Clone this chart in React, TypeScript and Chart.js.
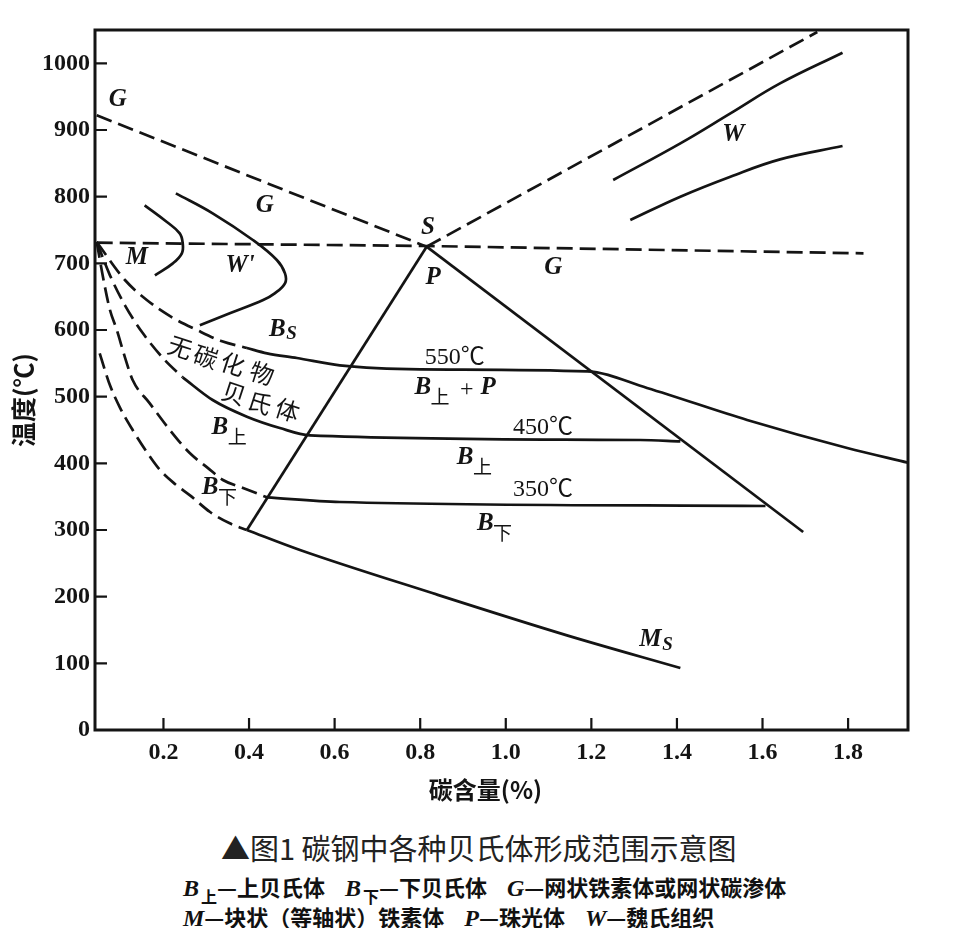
import React, { useEffect, useRef } from "react";
import { Chart, registerables } from "chart.js";

Chart.register(...registerables);

type Pt = [number, number];

// ---- axes ----
const xTickValues = [0.2, 0.4, 0.6, 0.8, 1.0, 1.2, 1.4, 1.6, 1.8];
const yTickValues = [0, 100, 200, 300, 400, 500, 600, 700, 800, 900, 1000];
const xMin = 0.04;
const xMax = 1.94;
const yMin = 0;
const yMax = 1050;

// ---- dashed lines (carbon %, temperature °C) ----
const gLeft: Pt[] = [[0.044, 922], [0.815, 725]];
const gRight: Pt[] = [[0.815, 725], [1.728, 1047]];
const a1Line: Pt[] = [[0.044, 731], [0.815, 726], [1.836, 715]];
const bsDashed: Pt[] = [[0.044, 732], [0.110, 675], [0.161, 645], [0.220, 619], [0.278, 600], [0.337, 583], [0.395, 573]];
const bUpperDashed: Pt[] = [[0.044, 732], [0.075, 682], [0.110, 637], [0.152, 595], [0.203, 555], [0.245, 529]];
const bLowerDashed: Pt[] = [[0.044, 732], [0.060, 675], [0.075, 630], [0.091, 600], [0.110, 559], [0.128, 525], [0.168, 490], [0.215, 450], [0.262, 415], [0.302, 394], [0.339, 375], [0.386, 363], [0.442, 349]];
const msDashed: Pt[] = [[0.051, 565], [0.063, 540], [0.075, 517], [0.098, 484], [0.128, 450], [0.161, 417], [0.192, 390], [0.227, 369], [0.262, 352], [0.309, 327], [0.355, 310], [0.395, 300]];

// ---- solid lines ----
const bsSolid: Pt[] = [[0.395, 573], [0.442, 565], [0.512, 558], [0.612, 547], [0.800, 541], [1.190, 538], [1.330, 513], [1.564, 465], [1.798, 423], [1.94, 401]];
const bUpperSolid: Pt[] = [[0.245, 529], [0.315, 495], [0.395, 470], [0.472, 453], [0.542, 442], [1.314, 435], [1.408, 433]];
const bLowerSolid: Pt[] = [[0.442, 349], [0.612, 342], [1.607, 336]];
const msSolid: Pt[] = [[0.395, 300], [0.519, 270], [0.830, 205], [1.143, 142], [1.408, 93]];
const pLeft: Pt[] = [[0.815, 725], [0.395, 300]];
const pRight: Pt[] = [[0.815, 725], [1.695, 297]];
const mCurve: Pt[] = [[0.156, 787], [0.208, 762], [0.238, 745], [0.245, 730], [0.243, 715], [0.222, 700], [0.180, 682]];
const wPrimeCurve: Pt[] = [[0.229, 805], [0.315, 775], [0.409, 735], [0.465, 705], [0.484, 685], [0.484, 670], [0.460, 655], [0.433, 645], [0.355, 625], [0.285, 607]];
const wUpper: Pt[] = [[1.251, 825], [1.408, 880], [1.525, 925], [1.641, 970], [1.787, 1016]];
const wLower: Pt[] = [[1.291, 765], [1.408, 800], [1.525, 830], [1.641, 856], [1.787, 876]];

// ---- labels ----
const italicLabels: { text: string; sub?: string; x: number; y: number }[] = [
  { text: "G", x: 0.093, y: 945 },
  { text: "G", x: 0.437, y: 787 },
  { text: "S", x: 0.818, y: 753 },
  { text: "P", x: 0.830, y: 679 },
  { text: "G", x: 1.111, y: 694 },
  { text: "M", x: 0.138, y: 708 },
  { text: "W'", x: 0.379, y: 697 },
  { text: "B", sub: "S", x: 0.466, y: 601 },
  { text: "B", sub: "上", x: 0.332, y: 454 },
  { text: "B", sub: "下", x: 0.309, y: 364 },
  { text: "B", sub: "上", x: 0.806, y: 513 },
  { text: "P", x: 0.959, y: 513 },
  { text: "B", sub: "上", x: 0.905, y: 409 },
  { text: "B", sub: "下", x: 0.952, y: 310 },
  { text: "W", x: 1.532, y: 893 },
  { text: "M", sub: "S", x: 1.338, y: 135 },
];
const plainLabels: { text: string; x: number; y: number }[] = [
  { text: "550℃", x: 0.881, y: 559 },
  { text: "+", x: 0.909, y: 511 },
  { text: "450℃", x: 1.087, y: 453 },
  { text: "350℃", x: 1.087, y: 360 },
];
const rotatedChars: { text: string; x: number; y: number }[] = [
  { text: "无", x: 0.239, y: 574 },
  { text: "碳", x: 0.299, y: 560 },
  { text: "化", x: 0.362, y: 549 },
  { text: "物", x: 0.430, y: 535 },
  { text: "贝", x: 0.365, y: 505 },
  { text: "氏", x: 0.425, y: 491 },
  { text: "体", x: 0.490, y: 480 },
];

const xTitle = "碳含量(%)";
const yTitle = "温度(℃)";
const caption = "▲图1 碳钢中各种贝氏体形成范围示意图";

const INK = "#141414";

export default function App() {
  const ref = useRef<HTMLCanvasElement>(null);

  useEffect(() => {
    const canvas = ref.current!;
    const toXY = (pts: Pt[]) => pts.map(([x, y]) => ({ x, y }));
    const mk = (label: string, pts: Pt[], dashed: boolean, mode: "straight" | "mono" | "smooth") => ({
      label,
      data: toXY(pts),
      showLine: true,
      borderColor: INK,
      backgroundColor: INK,
      borderWidth: 2.7,
      borderDash: dashed ? [16, 7] : [],
      pointRadius: 0,
      pointHoverRadius: 0,
      fill: false,
      tension: mode === "straight" ? 0 : 0.4,
      cubicInterpolationMode: mode === "mono" ? "monotone" : "default",
      borderCapStyle: "butt",
      borderJoinStyle: "round",
    });

    const datasets: any[] = [
      mk("G-left", gLeft, true, "straight"),
      mk("G-right", gRight, true, "straight"),
      mk("A1", a1Line, true, "straight"),
      mk("Bs-dashed", bsDashed, true, "mono"),
      mk("Bupper-dashed", bUpperDashed, true, "mono"),
      mk("Blower-dashed", bLowerDashed, true, "mono"),
      mk("Ms-dashed", msDashed, true, "mono"),
      mk("Bs", bsSolid, false, "mono"),
      mk("Bupper", bUpperSolid, false, "mono"),
      mk("Blower", bLowerSolid, false, "mono"),
      mk("Ms", msSolid, false, "mono"),
      mk("P-left", pLeft, false, "straight"),
      mk("P-right", pRight, false, "straight"),
      mk("M", mCurve, false, "smooth"),
      mk("W'", wPrimeCurve, false, "smooth"),
      mk("W-upper", wUpper, false, "smooth"),
      mk("W-lower", wLower, false, "smooth"),
    ];

    const framePlugin = {
      id: "frame",
      afterDraw(chart: any) {
        const { ctx, chartArea: a, scales } = chart;
        ctx.save();
        ctx.strokeStyle = INK;
        ctx.lineWidth = 3;
        ctx.strokeRect(a.left, a.top, a.right - a.left, a.bottom - a.top);
        ctx.lineWidth = 2.2;
        ctx.beginPath();
        for (const t of scales.x.ticks) {
          const px = scales.x.getPixelForValue(t.value);
          ctx.moveTo(px, a.bottom);
          ctx.lineTo(px, a.bottom - 12);
        }
        for (const t of scales.y.ticks) {
          const py = scales.y.getPixelForValue(t.value);
          if (t.value === 0) continue;
          ctx.moveTo(a.left, py);
          ctx.lineTo(a.left + 12, py);
        }
        ctx.stroke();

        // axis titles
        ctx.fillStyle = INK;
        ctx.textAlign = "center";
        ctx.textBaseline = "middle";
        ctx.font = 'bold 24px "Noto Sans CJK SC"';
        ctx.fillText(xTitle, (a.left + a.right) / 2 - 16, a.bottom + 60);
        ctx.save();
        ctx.translate(a.left - 72, (a.top + a.bottom) / 2 + 20);
        ctx.rotate(-Math.PI / 2);
        ctx.font = 'bold 25px "Noto Sans CJK SC"';
        ctx.fillText(yTitle, 0, 0);
        ctx.restore();
        ctx.restore();
      },
    };

    const annotPlugin = {
      id: "annot",
      afterDatasetsDraw(chart: any) {
        const { ctx, scales } = chart;
        const xs = scales.x, ys = scales.y;
        ctx.save();
        ctx.fillStyle = INK;
        ctx.textAlign = "center";
        ctx.textBaseline = "middle";
        for (const l of italicLabels) {
          const px = xs.getPixelForValue(l.x);
          const py = ys.getPixelForValue(l.y);
          ctx.font = 'italic bold 25px "Liberation Serif"';
          ctx.fillText(l.text, px, py);
          if (l.sub) {
            const w = ctx.measureText(l.text).width;
            const cjk = /[^\x00-\x7f]/.test(l.sub);
            ctx.font = cjk ? '19px "Noto Sans CJK SC"' : 'italic bold 19px "Liberation Serif"';
            ctx.fillText(l.sub, px + w / 2 + (cjk ? 9 : 6), py + (cjk ? 9 : 5));
          }
        }
        ctx.font = '24px "Liberation Serif", "Noto Sans CJK SC"';
        for (const l of plainLabels) {
          ctx.fillText(l.text, xs.getPixelForValue(l.x), ys.getPixelForValue(l.y));
        }
        ctx.font = '24px "Noto Sans CJK SC"';
        for (const l of rotatedChars) {
          ctx.save();
          ctx.translate(xs.getPixelForValue(l.x), ys.getPixelForValue(l.y));
          ctx.rotate((18 * Math.PI) / 180);
          ctx.fillText(l.text, 0, 0);
          ctx.restore();
        }
        ctx.restore();
      },
    };

    const tickFont = { family: '"Liberation Serif", serif', size: 24, weight: "bold" as const };

    const chart = new Chart(canvas, {
      type: "scatter",
      data: { datasets },
      options: {
        animation: false,
        responsive: false,
        events: [],
        layout: { padding: { top: 22, right: 38, left: 0, bottom: 0 } },
        plugins: {
          legend: { display: false },
          tooltip: { enabled: false },
          title: { display: false },
        },
        scales: {
          x: {
            type: "linear",
            min: xMin,
            max: xMax,
            afterBuildTicks: (s: any) => {
              s.ticks = xTickValues.map((v) => ({ value: v }));
            },
            afterFit: (s: any) => {
              s.height = 90;
            },
            grid: { display: false, drawTicks: false },
            border: { display: false },
            ticks: {
              font: tickFont,
              color: INK,
              padding: 8,
              autoSkip: false,
              maxRotation: 0,
              callback: (v: any) => Number(v).toFixed(1),
            },
          },
          y: {
            type: "linear",
            min: yMin,
            max: yMax,
            afterBuildTicks: (s: any) => {
              s.ticks = yTickValues.map((v) => ({ value: v }));
            },
            afterFit: (s: any) => {
              s.width = 87;
            },
            grid: { display: false, drawTicks: false },
            border: { display: false },
            ticks: {
              font: tickFont,
              color: INK,
              padding: 5,
              autoSkip: false,
              callback: (v: any) => String(v),
            },
          },
        },
      },
      plugins: [framePlugin, annotPlugin],
    } as any);
    return () => chart.destroy();
  }, []);

  const it: React.CSSProperties = { fontFamily: '"Liberation Serif", serif', fontStyle: "italic", fontWeight: "bold", fontSize: 24 };
  const sub: React.CSSProperties = { fontSize: 16, position: "relative", top: 7, marginLeft: 2 };
  const gap = "\u00a0\u00a0\u00a0\u00a0";

  return (
    <div style={{ position: "relative", width: 938, height: 920, background: "#fff" }}>
      <canvas ref={ref} width={938} height={812} style={{ display: "block" }} />
      <div
        style={{
          position: "absolute",
          left: 213,
          top: 822,
          lineHeight: "34px",
          fontSize: 29,
          fontFamily: '"Noto Sans CJK SC", sans-serif',
          color: "#222",
          whiteSpace: "nowrap",
        }}
      >
        {caption}
      </div>
      <div
        style={{
          position: "absolute",
          left: 175,
          top: 865,
          lineHeight: "26px",
          fontSize: 22,
          fontWeight: "bold",
          fontFamily: '"Noto Sans CJK SC", sans-serif',
          color: "#111",
          whiteSpace: "nowrap",
        }}
      >
        <div>
          <span style={it}>B</span>
          <span style={sub}>上</span>—上贝氏体{gap}
          <span style={it}>B</span>
          <span style={sub}>下</span>—下贝氏体{gap}
          <span style={it}>G</span>—网状铁素体或网状碳渗体
        </div>
        <div style={{ marginTop: 1 }}>
          <span style={it}>M</span>—块状（等轴状）铁素体{gap}
          <span style={it}>P</span>—珠光体{gap}
          <span style={it}>W</span>—魏氏组织
        </div>
      </div>
    </div>
  );
}
